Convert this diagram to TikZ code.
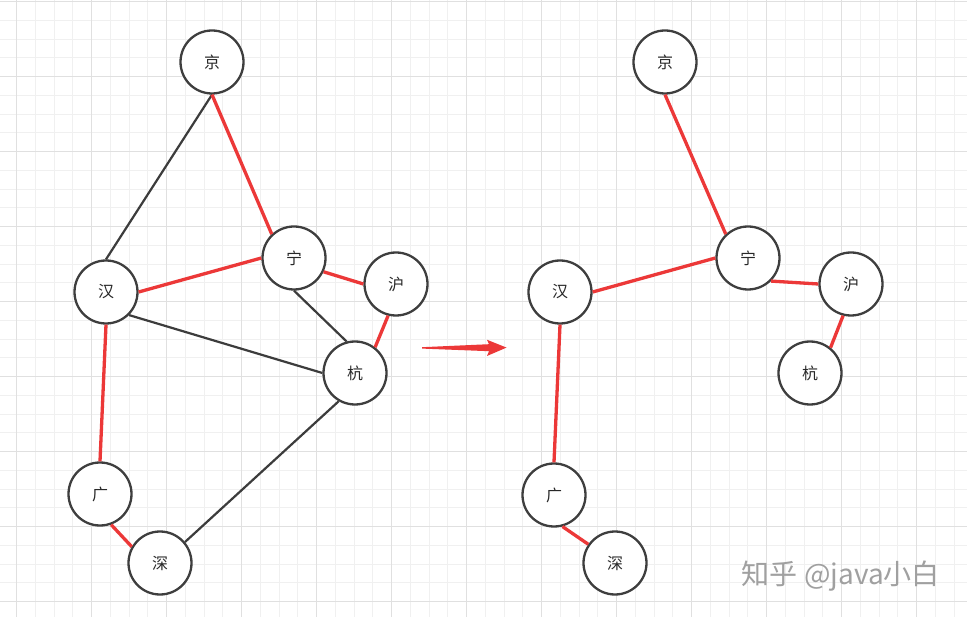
\documentclass[tikz,border=0pt]{standalone}
\usepackage{fontspec}
\newfontfamily\cjk{Noto Sans CJK SC}
\usetikzlibrary{positioning}
\definecolor{redline}{RGB}{236,56,56}
\definecolor{darkline}{RGB}{60,60,60}
\definecolor{ringgray}{RGB}{62,62,62}
\definecolor{textgray}{RGB}{40,40,40}
\definecolor{gridminor}{RGB}{240,240,240}
\definecolor{gridmajor}{RGB}{224,224,224}
\definecolor{wmgray}{RGB}{160,160,160}

\begin{document}
\begin{tikzpicture}[x=1pt, y=-1pt,
  city/.style={circle, draw=ringgray, line width=2.3pt, fill=white, minimum size=63pt, inner sep=0pt, text=textgray, font=\cjk\fontsize{16}{16}\selectfont},
  redge/.style={draw=redline, line width=3.3pt},
  kedge/.style={draw=darkline, line width=2.2pt},
  minorgrid/.style={draw=gridminor, line width=1pt},
  majorgrid/.style={draw=gridmajor, line width=1pt}]
  \useasboundingbox (0,0) rectangle (967,617);
  \fill[white] (0,0) rectangle (967,617);
  % grid
  \foreach \i in {0,...,52} \draw[minorgrid] ({-2.05+18.75*\i},0) -- ++(0,617);
  \foreach \j in {0,...,33} \draw[minorgrid] (0,{1.7+18.75*\j}) -- ++(967,0);
  \foreach \i in {0,...,12} \draw[majorgrid] ({16.7+75*\i},0) -- ++(0,617);
  \foreach \j in {0,...,8} \draw[majorgrid] (0,{1.7+75*\j}) -- ++(967,0);

  % left graph
  \node[city] (jing) at (212,62) {京};
  \node[city] (ning) at (294,258) {宁};
  \node[city] (han) at (106,292) {汉};
  \node[city] (hu) at (396,284) {沪};
  \node[city] (hang) at (355,373) {杭};
  \node[city] (guang) at (100,494) {广};
  \node[city] (shen) at (160,563) {深};
  \path[kedge] (jing.south) -- (han.north);
  \path[redge] (jing.south) -- (ning.133);
  \path[redge] (han.east) -- (ning.west);
  \path[redge] (ning.-25) -- (hu.west);
  \path[kedge] (ning.south) -- (hang.105);
  \path[kedge] (han.south east) -- (hang.west);
  \path[redge] (hu.-104) -- (hang.52);
  \path[redge] (han.south) -- (guang.north);
  \path[redge] (guang.-70) -- (shen.150);
  \path[kedge] (shen.40) -- (hang.-120);

  % arrow
  \fill[redline] (422,347.2) -- (489,344.2) -- (487,339.8) -- (506.5,347.6) -- (487,356) -- (489,351.2) -- (422,348.6) -- cycle;

  % right graph
  \node[city] (rjing) at (665,62) {京};
  \node[city] (rning) at (748,258) {宁};
  \node[city] (rhan) at (560,292) {汉};
  \node[city] (rhu) at (851,284) {沪};
  \node[city] (rhang) at (810,373) {杭};
  \node[city] (rguang) at (554,495) {广};
  \node[city] (rshen) at (615,563) {深};
  \path[redge] (rjing.south) -- (rning.133);
  \path[redge] (rhan.east) -- (rning.west);
  \path[redge] (rning.-45) -- (rhu.west);
  \path[redge] (rhu.-104) -- (rhang.51);
  \path[redge] (rhan.south) -- (rguang.north);
  \path[redge] (rguang.-75) -- (rshen.145);

  \node[anchor=base east, inner sep=0pt, text=wmgray, font=\cjk\fontsize{28}{28}\selectfont] (mark) at (940,584) {知乎 @java小白};
\end{tikzpicture}
\end{document}
